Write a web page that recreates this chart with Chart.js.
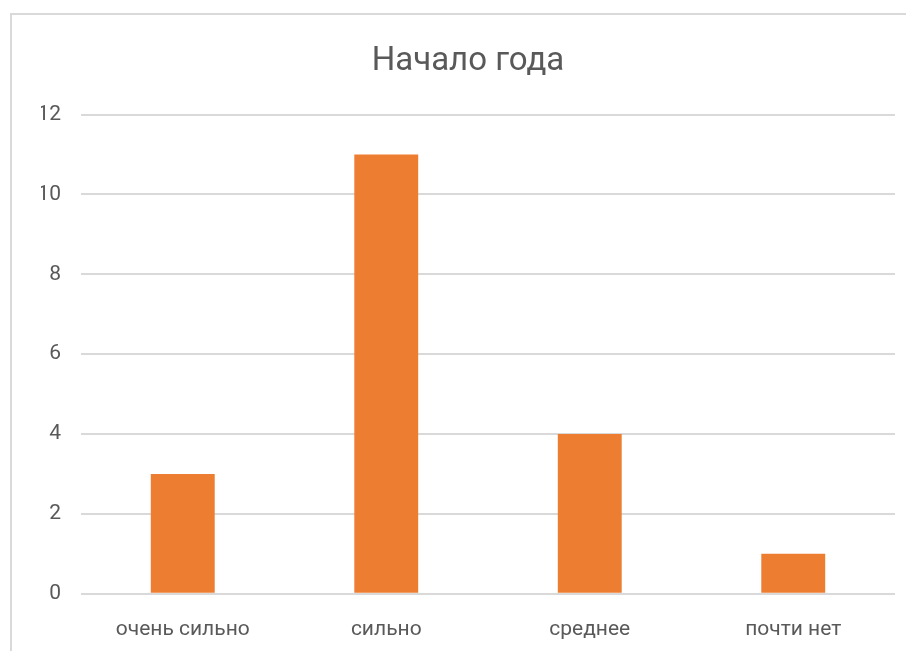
<!DOCTYPE html>
<html>
<head>
<meta charset="utf-8">
<script src="https://cdn.jsdelivr.net/npm/chart.js@4/dist/chart.umd.min.js"></script>
<style>
  html, body { margin: 0; padding: 0; background: #ffffff; }
  #wrap { position: relative; width: 906px; height: 651px; overflow: hidden; }
  #frame {
    position: absolute; left: 10px; top: 13px; width: 920px; height: 660px;
    border-left: 2px solid #d9d9d9; border-top: 2px solid #d9d9d9;
  }
  canvas { position: absolute; left: 0; top: 0; }
</style>
</head>
<body>
<div id="wrap">
  <div id="frame"></div>
  <canvas id="chart" width="906" height="651"></canvas>
</div>
<script>
const categories = ["очень сильно", "сильно", "среднее", "почти нет"];
const values = [3, 11, 4, 1];
const yMin = 0;
const yMax = 12;
const yStep = 2;

const textColor = "#595959";
const gridColor = "#d9d9d9";
const fontFamily = "Roboto, 'Liberation Sans', sans-serif";

// x tick padding is reserved twice by the layout, so the bottom padding takes it back
const xTickPadding = 23;

new Chart(document.getElementById("chart"), {
  type: "bar",
  data: {
    labels: categories,
    datasets: [
      {
        label: "Начало года",
        data: values,
        backgroundColor: "#ed7d31",
        barPercentage: 0.314,
        categoryPercentage: 1,
      },
    ],
  },
  options: {
    responsive: false,
    animation: false,
    layout: { padding: { top: 42, right: 11, bottom: 9 - xTickPadding, left: 41 } },
    scales: {
      x: {
        grid: { display: false, drawTicks: false },
        border: { display: false },
        ticks: {
          color: textColor,
          padding: xTickPadding,
          maxRotation: 0,
          font: { family: fontFamily, size: 21 },
        },
      },
      y: {
        min: yMin,
        max: yMax,
        afterFit: (scale) => {
          scale.width = 40;
        },
        grid: { color: gridColor, lineWidth: 2, drawTicks: false },
        border: { display: false },
        ticks: {
          stepSize: yStep,
          color: textColor,
          padding: 20,
          font: { family: fontFamily, size: 21 },
        },
      },
    },
    plugins: {
      legend: { display: false },
      tooltip: { enabled: false },
      title: {
        display: true,
        text: "Начало года",
        color: textColor,
        padding: { top: 0, bottom: 33 },
        font: { family: fontFamily, size: 33, weight: "normal" },
      },
    },
  },
});
</script>
</body>
</html>
